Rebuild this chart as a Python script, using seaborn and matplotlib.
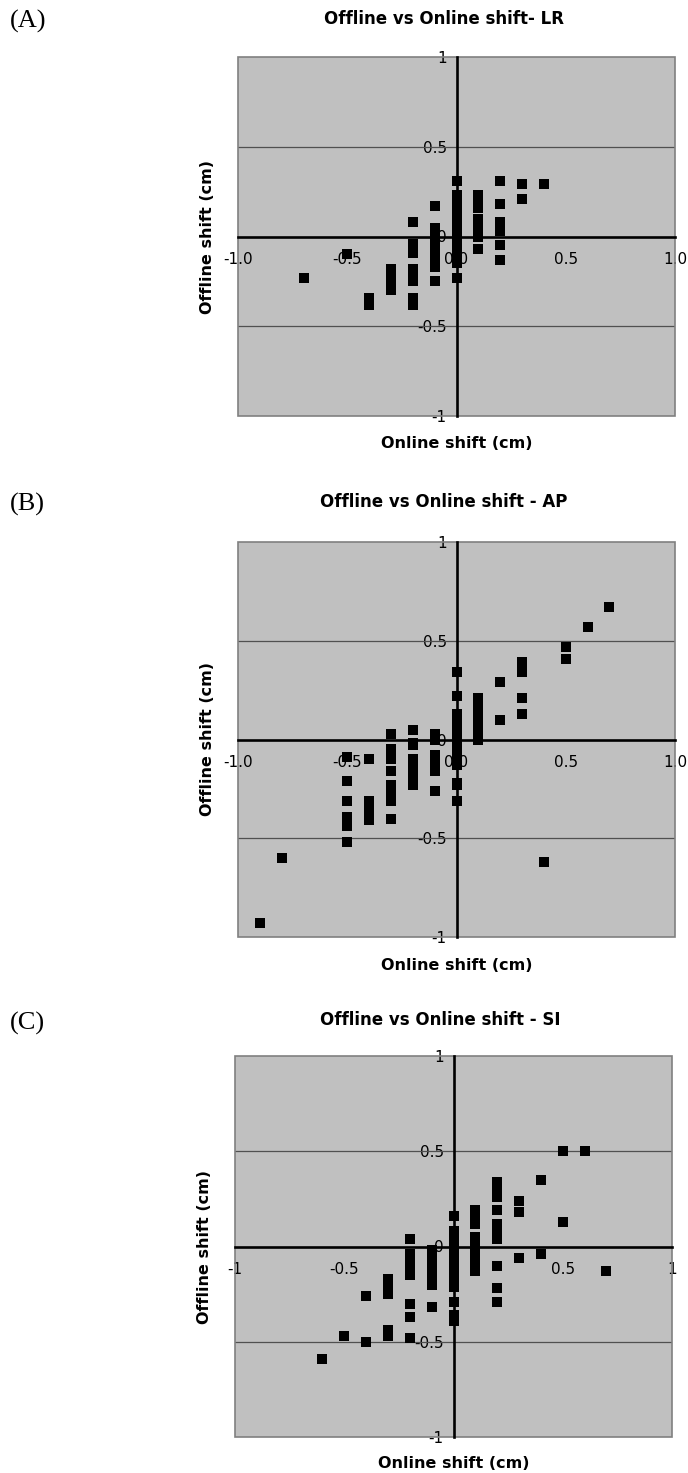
import matplotlib
matplotlib.use("Agg")
import matplotlib.pyplot as plt
from matplotlib.patches import Rectangle
import pandas as pd
import seaborn as sns

# Offline shift (cm) grouped by the online shift (cm) it was measured at
lr_offline = {
    -0.7: [-0.23],
    -0.5: [-0.10],
    -0.4: [-0.34, -0.38],
    -0.3: [-0.18, -0.22, -0.26, -0.30],
    -0.2: [0.08, -0.04, -0.07, -0.09, -0.18, -0.22, -0.25, -0.34, -0.38],
    -0.1: [0.17, 0.05, 0.01, -0.03, -0.07, -0.11, -0.15, -0.17, -0.25],
    0.0: [0.31, 0.23, 0.19, 0.15, 0.11, 0.07, 0.03, -0.01, -0.05, -0.09, -0.13, -0.15, -0.23],
    0.1: [0.23, 0.20, 0.16, 0.10, 0.06, 0.03, 0.00, -0.07],
    0.2: [0.31, 0.18, 0.08, 0.05, 0.03, -0.05, -0.13],
    0.3: [0.29, 0.21],
    0.4: [0.29],
}

ap_offline = {
    -0.9: [-0.93],
    -0.8: [-0.60],
    -0.5: [-0.09, -0.21, -0.31, -0.39, -0.44, -0.52],
    -0.4: [-0.10, -0.31, -0.36, -0.41],
    -0.3: [0.03, -0.05, -0.10, -0.16, -0.23, -0.27, -0.31, -0.40],
    -0.2: [0.05, -0.02, -0.03, -0.10, -0.14, -0.18, -0.23],
    -0.1: [0.03, 0.00, -0.08, -0.12, -0.16, -0.26],
    0.0: [0.34, 0.22, 0.13, 0.10, 0.08, 0.03, -0.01, -0.05, -0.09, -0.13, -0.22, -0.23, -0.31],
    0.1: [0.21, 0.16, 0.12, 0.08, 0.04, 0.00],
    0.2: [0.29, 0.10],
    0.3: [0.39, 0.34, 0.21, 0.13],
    0.4: [-0.62],
    0.5: [0.47, 0.41],
    0.6: [0.57],
    0.7: [0.67],
}

si_offline = {
    -0.6: [-0.59],
    -0.5: [-0.47],
    -0.4: [-0.26, -0.50],
    -0.3: [-0.17, -0.21, -0.25, -0.44, -0.47],
    -0.2: [0.04, -0.04, -0.08, -0.12, -0.15, -0.30, -0.37, -0.48],
    -0.1: [-0.02, -0.06, -0.10, -0.14, -0.18, -0.20, -0.32],
    0.0: [0.16, 0.08, 0.04, 0.00, -0.04, -0.08, -0.12, -0.16, -0.19, -0.21, -0.29, -0.36, -0.39],
    0.1: [0.19, 0.155, 0.12, 0.05, 0.01, -0.03, -0.07, -0.11, -0.13],
    0.2: [0.34, 0.30, 0.26, 0.19, 0.12, 0.08, 0.04, -0.10, -0.22, -0.29],
    0.3: [0.24, 0.18, -0.06],
    0.4: [0.35, -0.04],
    0.5: [0.50, 0.13],
    0.6: [0.50],
    0.7: [-0.13],
}

panel_letters = ["(A)", "(B)", "(C)"]
panel_titles = ["Offline vs Online shift- LR",
                "Offline vs Online shift - AP",
                "Offline vs Online shift - SI"]
tick_values = [-1.0, -0.5, 0.0, 0.5, 1.0]
x_ticklabels = [["-1.0", "-0.5", "0.0", "0.5", "1.0"],
                ["-1.0", "-0.5", "0.0", "0.5", "1.0"],
                ["-1", "-0.5", "0", "0.5", "1"]]
y_ticklabels = ["-1", "-0.5", "0", "0.5", "1"]
x_title = "Online shift (cm)"
y_title = "Offline shift (cm)"


def to_frame(groups):
    rows = [(x, y) for x, ys in groups.items() for y in ys]
    return pd.DataFrame(rows, columns=["online", "offline"])


frames = [to_frame(lr_offline), to_frame(ap_offline), to_frame(si_offline)]

sns.set_style("white")
plt.rcParams["font.family"] = ["DejaVu Sans"]
plt.rcParams["text.color"] = "black"

W, H = 688, 1473
fig = plt.figure(figsize=(W / 100, H / 100), dpi=100)
fig.patch.set_facecolor("white")

# panel boxes in pixels: left, top, right, bottom
boxes = [(238, 57, 675, 416), (238, 542, 675, 937), (235, 1056, 672, 1437)]
title_y = [19, 502, 1020]
letter_y = [21, 504, 1023]
xlabel_y = [443, 965, 1463]
ylabel_x = [208, 208, 205]


def fx(px):
    return px / W


def fy(py):
    return 1 - py / H


for i, (df, (l, t, r, b)) in enumerate(zip(frames, boxes)):
    ax = fig.add_axes([fx(l), fy(b), fx(r - l), (b - t) / H])
    ax.set_facecolor("#C0C0C0")
    ax.set_xlim(-1, 1)
    ax.set_ylim(-1, 1)

    for gy in (-0.5, 0.5):
        ax.axhline(gy, color="#505050", lw=0.9, zorder=1)

    sns.scatterplot(data=df, x="online", y="offline", ax=ax, marker="s",
                    s=44, color="black", linewidth=0, legend=False, zorder=4)

    ax.spines["left"].set_position("zero")
    ax.spines["bottom"].set_position("zero")
    for side in ("left", "bottom"):
        ax.spines[side].set_color("black")
        ax.spines[side].set_linewidth(1.9)
        ax.spines[side].set_zorder(3)
    for side in ("top", "right"):
        ax.spines[side].set_visible(False)
    ax.add_patch(Rectangle((0, 0), 1, 1, transform=ax.transAxes, fill=False,
                           edgecolor="#808080", lw=1.2, zorder=2, clip_on=False))

    ax.set_xticks(tick_values)
    ax.set_xticklabels(x_ticklabels[i])
    ax.set_yticks(tick_values)
    ax.set_yticklabels(y_ticklabels)
    ax.tick_params(axis="both", direction="out", length=4, width=1.6,
                   color="black", labelsize=11, labelcolor="black", pad=3)
    ax.tick_params(axis="x", pad=7)
    ax.set_xlabel("")
    ax.set_ylabel("")

    cx = (l + r) / 2
    fig.text(fx(cx - 13), fy(title_y[i]), panel_titles[i], ha="center", va="center",
             fontsize=12, fontweight="bold")
    fig.text(fx(cx), fy(xlabel_y[i]), x_title, ha="center", va="center",
             fontsize=11.5, fontweight="bold")
    fig.text(fx(ylabel_x[i]), fy((t + b) / 2), y_title, ha="center", va="center",
             rotation=90, fontsize=11.5, fontweight="bold")
    fig.text(fx(10), fy(letter_y[i]), panel_letters[i], ha="left", va="center",
             fontsize=19, family="Liberation Serif")

fig.savefig("out.png", dpi=100)
